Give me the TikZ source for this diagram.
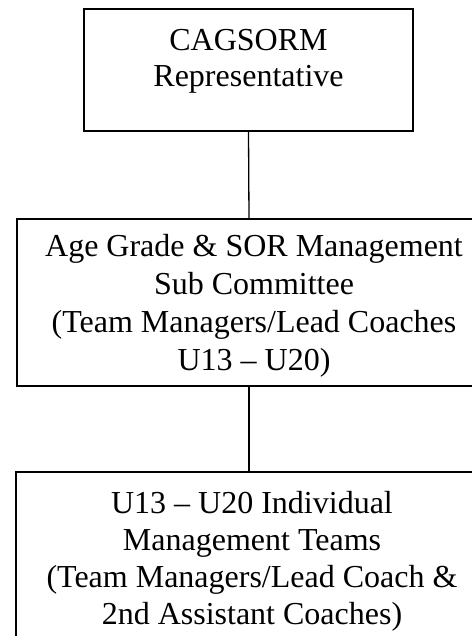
\documentclass[tikz,border=0pt]{standalone}
\usepackage{fontspec}
\setmainfont{Liberation Serif}
\begin{document}
\begin{tikzpicture}[x=1bp,y=1bp,
  orgbox/.style={draw=black, line width=1.3bp, rectangle, inner sep=0pt},
  orgtext/.style={inner sep=0pt, align=center, anchor=north,
    font=\fontsize{32bp}{38bp}\selectfont},
  link/.style={draw=black, line width=1.3bp}]
  \clip (0,0) rectangle (472,-636);
  \fill[white] (0,0) rectangle (472,-636);

  % boxes of the three levels
  \node[orgbox, minimum width=329bp, minimum height=122bp] (rep) at (248.5,-70) {};
  \node[orgbox, minimum width=464bp, minimum height=167bp] (sub) at (249,-302.5) {};
  \node[orgbox, minimum width=466bp, minimum height=200bp] (teams) at (249,-572) {};

  % box texts
  \node[orgtext, font=\fontsize{32bp}{36bp}\selectfont] (repT) at (248.5,-29)
    {CAGSORM\\Representative};
  \node[orgtext] (subT) at (254,-234)
    {Age Grade \& SOR Management\\Sub Committee\\(Team Managers/Lead Coaches\\U13 -- U20)};
  \node[orgtext, font=\fontsize{32bp}{37bp}\selectfont] (teamsT) at (252,-491)
    {U13 -- U20 Individual\\Management Teams\\(Team Managers/Lead Coach \&\\2nd Assistant Coaches)};

  % connectors
  \draw[link] (rep.south) -- (sub.north);
  \draw[link] (sub.south) -- (teams.north);
\end{tikzpicture}
\end{document}
